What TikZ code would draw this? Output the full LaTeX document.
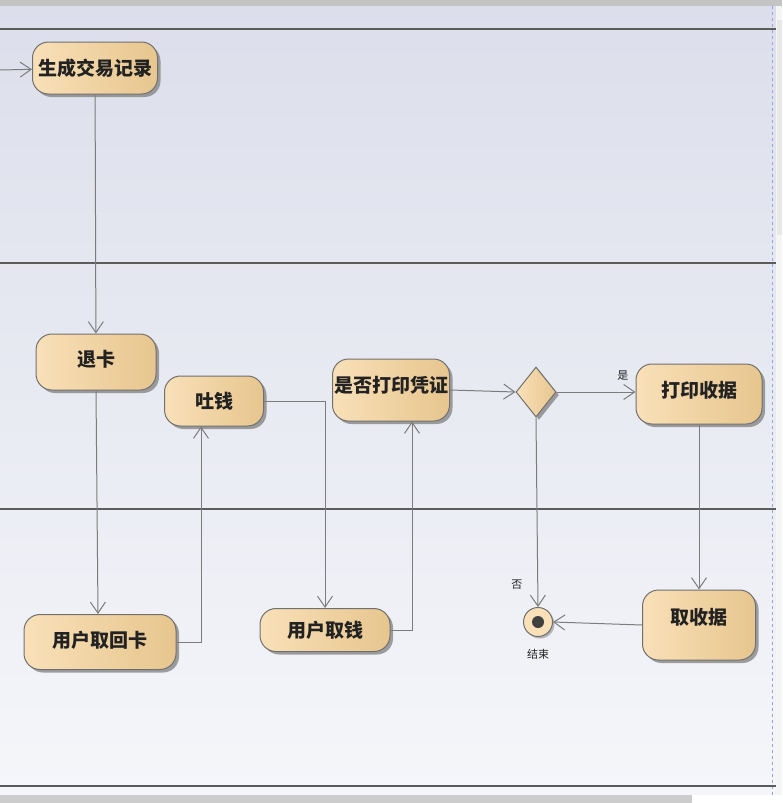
\documentclass[tikz,border=0pt]{standalone}
\usepackage{fontspec}
\newfontfamily\cjk{Noto Sans CJK SC}
\usetikzlibrary{
  arrows.meta,
  shapes.geometric,
  positioning,
  calc,
  shadows
}
\definecolor{atmBack}{HTML}{DCDFEB}
\definecolor{atmBackLow}{HTML}{F5F6FA}
\definecolor{atmLane}{HTML}{5C5C5C}
\definecolor{atmFillL}{HTML}{F9E0B8}
\definecolor{atmFillR}{HTML}{E7C68E}
\definecolor{atmEdge}{HTML}{707070}
\definecolor{atmLine}{HTML}{7C7C7C}
\definecolor{atmBar}{HTML}{C4C4C4}
\definecolor{atmText}{HTML}{222222}
\definecolor{atmDash}{HTML}{A0A0D8}
\tikzset{
  actbox/.style={
    draw=atmEdge, line width=1pt, rounded corners=16pt,
    left color=atmFillL, right color=atmFillR, text=atmText,
    font=\cjk\bfseries\fontsize{19}{19}\selectfont, inner sep=1pt,
    drop shadow={shadow xshift=3pt, shadow yshift=-3pt, fill=black!50, opacity=.75}
  },
  decide/.style={
    actbox, shape=diamond, rounded corners=0pt, inner sep=0pt,
    minimum width=40pt, minimum height=50pt
  },
  finalnode/.style={
    circle, draw=atmEdge, line width=1pt, fill=atmFillL, minimum size=29pt, inner sep=0pt,
    drop shadow={shadow xshift=2pt, shadow yshift=-2pt, fill=black!45, opacity=.6}
  },
  flow/.style={-{Straight Barb[length=11pt, width=15pt]}, line width=1pt, atmLine},
  lane/.style={line width=1.8pt, atmLane},
  tag/.style={font=\cjk\fontsize{11}{11}\selectfont, text=atmText, inner sep=1pt}
}
\begin{document}
\begin{tikzpicture}[x=1pt, y=-1pt]
  \useasboundingbox (0,0) rectangle (782,803);
  % window frame and swimlanes
  \fill[top color=atmBack, bottom color=atmBackLow] (0,6) rectangle (776,795);
  \fill[atmBar] (0,0) rectangle (782,6);
  \fill[black!20] (0,795) rectangle (692,803);
  \fill[white] (692,795) rectangle (782,803);
  \fill[black!4] (776,6) rectangle (782,795);
  \fill[black!9] (777,20) rectangle (782,235);
  \draw[atmDash, dashed, line width=0.8pt] (772,6) -- (772,795);
  \foreach \ly in {29, 263, 509, 786}
    \draw[lane] (0,\ly) -- (776,\ly);

  % actions
  \node[actbox, minimum width=125pt, minimum height=52pt] (record) at (95,68) {生成交易记录};
  \node[actbox, minimum width=120pt, minimum height=56pt] (tuika) at (96,362) {\raisebox{8pt}{退卡}};
  \node[actbox, minimum width=99pt, minimum height=50pt] (tuqian) at (214,401) {吐钱};
  \node[actbox, minimum width=117pt, minimum height=62pt] (askprint) at (391,390) {\raisebox{12pt}{是否打印凭证}};
  \node[decide] (choice) at (536,392) {};
  \node[actbox, minimum width=126pt, minimum height=60pt] (print) at (699,394) {\raisebox{10pt}{打印收据}};
  \node[actbox, minimum width=152pt, minimum height=55pt] (takecard) at (100,642) {\raisebox{6pt}{用户取回卡}};
  \node[actbox, minimum width=130pt, minimum height=43pt] (takecash) at (325,630) {用户取钱};
  \node[actbox, minimum width=113pt, minimum height=70pt] (takeslip) at (699,625) {\raisebox{18pt}{取收据}};
  \node[finalnode] (done) at (538,622) {};
  \fill[black!75] (done.center) circle (6pt);
  \node[tag, below=11pt of done] (donetag) {结束};
  \coordinate (entry) at (0,70);

  % flows
  \draw[flow] (entry) -- (record);
  \draw[flow] (record) -- (tuika);
  \draw[flow] (tuika.south) -- ([xshift=-2pt]takecard.north);
  \draw[flow] (takecard.east) -| ([xshift=-13pt]tuqian.south);
  \draw[flow] (tuqian.east) -| (takecash.north);
  \draw[flow] (takecash.east) -| ([xshift=21pt]askprint.south);
  \draw[flow] (askprint.east) -- (choice.west);
  \draw[flow] (choice.east) -- node[tag, pos=.84, above=10pt] {是} (print.west |- choice.east);
  \draw[flow] (choice.south) -- node[tag, pos=.88, left=14pt] {否} (done.north);
  \draw[flow] (print) -- (takeslip);
  \draw[flow] (takeslip.west) -- (done.east);
\end{tikzpicture}
\end{document}
